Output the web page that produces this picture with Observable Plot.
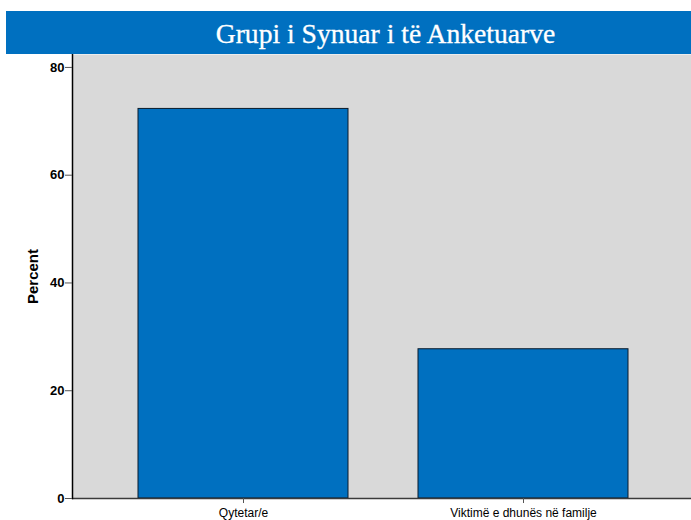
<!DOCTYPE html>
<html>
<head>
<meta charset="utf-8">
<script src="https://cdn.jsdelivr.net/npm/d3@7"></script>
<script src="https://cdn.jsdelivr.net/npm/@observablehq/plot@0.6"></script>
<style>
  html, body { margin: 0; padding: 0; background: #fff; }
  #wrap { width: 691px; position: relative; }
  #title {
    margin: 11px 0 0 6px; height: 43px; background: #0070c0; color: #fff;
    font-family: "Liberation Serif", "DejaVu Serif", serif; font-size: 27.6px;
    line-height: 45px; box-sizing: border-box; padding-left: 74px; text-align: center;
    -webkit-text-stroke: 0.3px #fff;
  }
  svg { display: block; font-family: "Liberation Sans", Arial, sans-serif; }
  svg [aria-label="y-axis label"] text { font-size: 15px; font-weight: bold; }
</style>
</head>
<body>
<div id="wrap">
  <div id="title">Grupi i Synuar i të Anketuarve</div>
  <div id="chart"></div>
</div>
<script>
const categories = ["Qytetar/e", "Viktimë e dhunës në familje"];
const percents = [72.3, 27.7];
const yTicks = [0, 20, 40, 60, 80];

const data = categories.map((c, i) => ({category: c, percent: percents[i]}));

const chart = Plot.plot({
  width: 691,
  height: 466,
  marginLeft: 72,
  marginRight: 0,
  marginTop: 0,
  marginBottom: 22,
  x: {domain: categories, paddingInner: 0.25, paddingOuter: 0.23, align: 0.51, label: null},
  y: {domain: [0, 82.4], label: null},
  marks: [
    Plot.frame({fill: "#d9d9d9", stroke: null}),
    Plot.barY(data, {x: "category", y: "percent", fill: "#0070c0", stroke: "#0a1a2a", strokeWidth: 1}),
    Plot.ruleY([0], {stroke: "#3a3a3a", strokeWidth: 1.5}),
    Plot.frame({anchor: "left", stroke: "#000", strokeWidth: 1.5}),
    Plot.axisY(yTicks, {tickSize: 7, stroke: "#555", fontSize: 13, fontWeight: "bold", fill: "#000", tickPadding: 1,
      label: "Percent", labelAnchor: "center", labelArrow: "none", labelOffset: 45}),
    Plot.axisX({tickSize: 5, stroke: "#555", fontSize: 12, fill: "#000", tickPadding: 5, label: null})
  ]
});
document.getElementById("chart").appendChild(chart);
</script>
</body>
</html>
